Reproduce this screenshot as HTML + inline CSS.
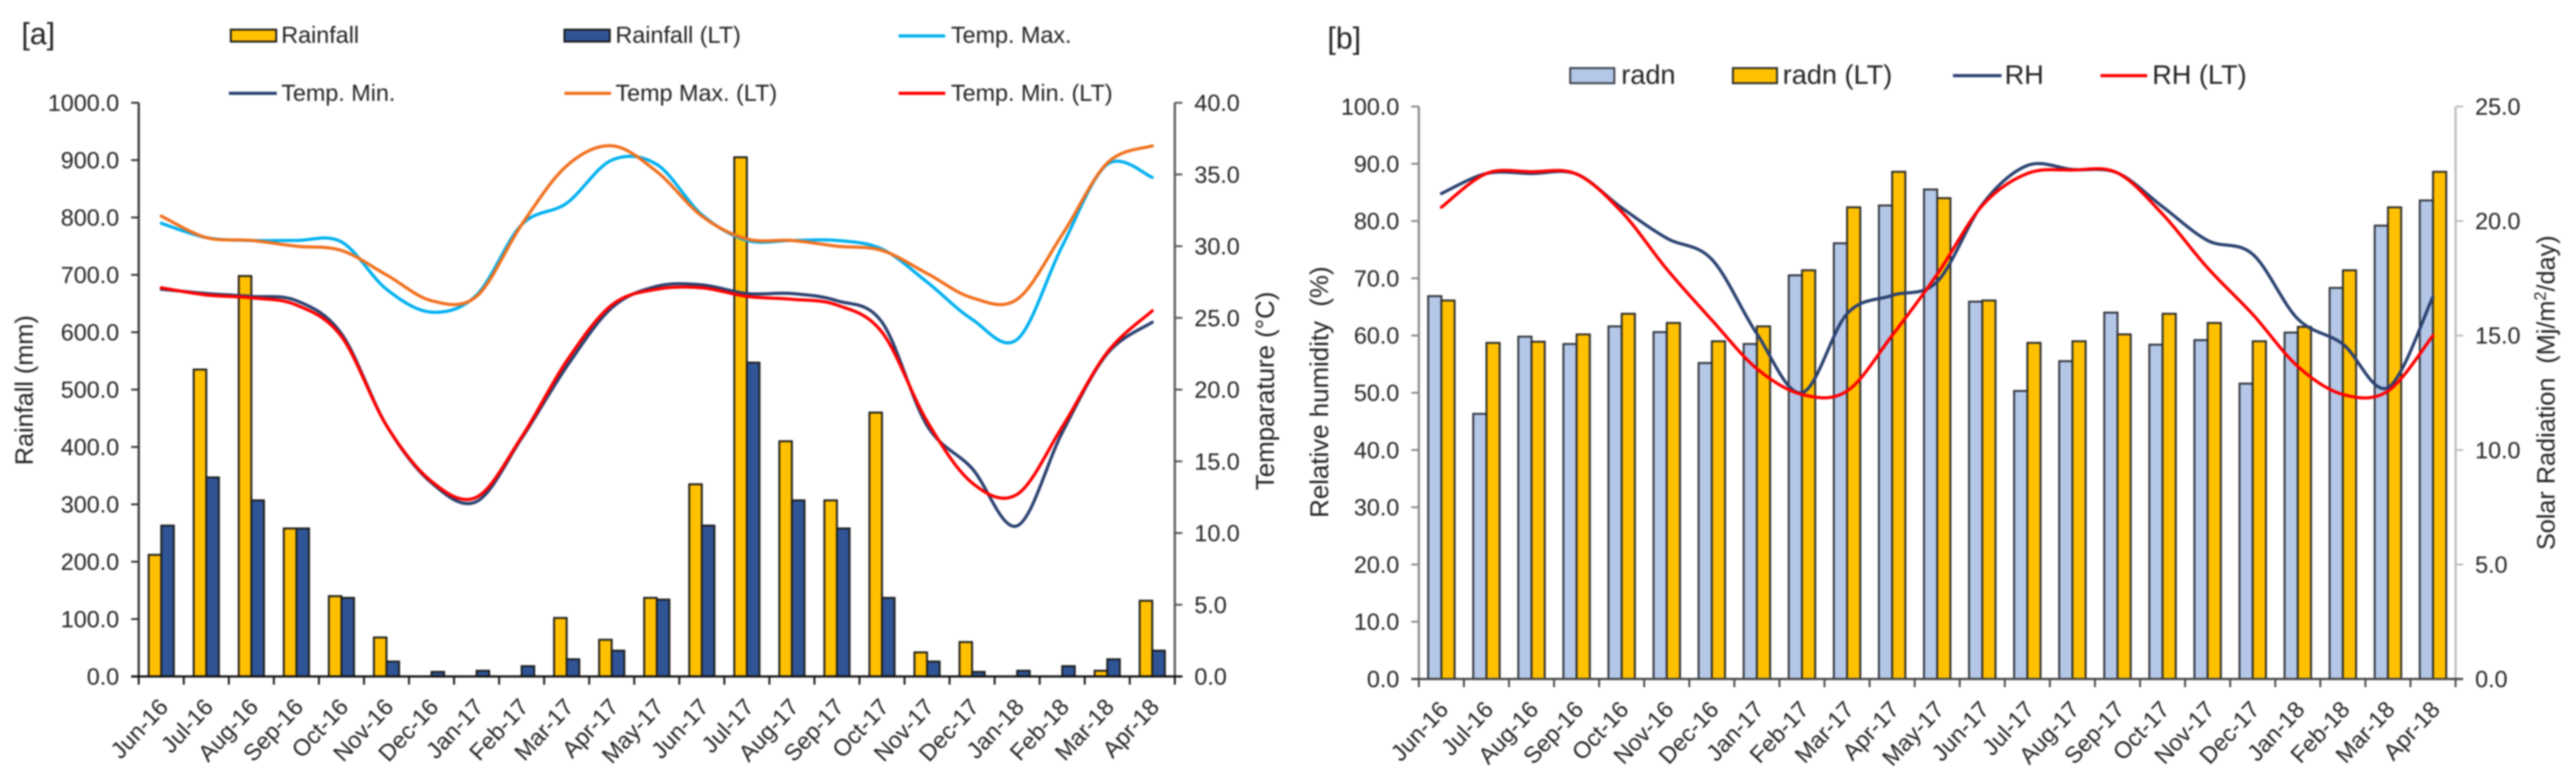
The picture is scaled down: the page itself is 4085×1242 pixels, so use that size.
<!DOCTYPE html>
<html lang="en">
<head>
<meta charset="utf-8">
<title>Weather charts</title>
<style>
html,body{margin:0;padding:0;background:#fff;width:4085px;height:1242px;overflow:hidden}
svg{display:block;filter:blur(1.3px)}
text{font-family:"Liberation Sans",sans-serif;fill:#222}
</style>
</head>
<body>
<svg id="chart" xmlns="http://www.w3.org/2000/svg" width="4085" height="1242" viewBox="0 0 4085 1242">
  <rect x="0" y="0" width="4085" height="1242" fill="#fff"/>
  <g id="panelA"></g>
  <g id="panelB"></g>

  <text x="34" y="70" font-size="48">[a]</text>
  <text x="2105" y="77" font-size="48">[b]</text>

  <g font-size="37">
    <g>
      <rect x="366" y="47" width="72" height="19" fill="#FFC000" stroke="#1a1a1a" stroke-width="3"/>
      <text x="446" y="68">Rainfall</text>
    </g>
    <g>
      <rect x="895" y="47" width="72" height="19" fill="#2F5597" stroke="#1a1a1a" stroke-width="3"/>
      <text x="976" y="68">Rainfall (LT)</text>
    </g>
    <g>
      <line x1="1425" y1="57" x2="1499" y2="57" stroke="#00B0F0" stroke-width="5"/>
      <text x="1508" y="68">Temp. Max.</text>
    </g>
    <g>
      <line x1="363" y1="148" x2="439" y2="148" stroke="#2A4170" stroke-width="5"/>
      <text x="446" y="160">Temp. Min.</text>
    </g>
    <g>
      <line x1="895" y1="148" x2="969" y2="148" stroke="#F0701E" stroke-width="5"/>
      <text x="976" y="160">Temp Max. (LT)</text>
    </g>
    <g>
      <line x1="1425" y1="148" x2="1499" y2="148" stroke="#FF0000" stroke-width="5"/>
      <text x="1508" y="160">Temp. Min. (LT)</text>
    </g>
  </g>

  <g font-size="43">
    <g>
      <rect x="2490" y="108" width="70" height="24" fill="#B4C7E7" stroke="#3a3f4a" stroke-width="3"/>
      <text x="2571" y="133">radn</text>
    </g>
    <g>
      <rect x="2748" y="108" width="70" height="24" fill="#FFC000" stroke="#2a2a2a" stroke-width="3"/>
      <text x="2827" y="133">radn (LT)</text>
    </g>
    <g>
      <line x1="3097" y1="120" x2="3174" y2="120" stroke="#2A4170" stroke-width="5"/>
      <text x="3179" y="133">RH</text>
    </g>
    <g>
      <line x1="3331" y1="120" x2="3405" y2="120" stroke="#FF0000" stroke-width="5"/>
      <text x="3413" y="133">RH (LT)</text>
    </g>
  </g>

  <text font-size="40" text-anchor="middle" transform="translate(52,619) rotate(-90)">Rainfall (mm)</text>
  <text font-size="41" text-anchor="middle" transform="translate(2020,620) rotate(-90)">Temparature (°C)</text>
  <text font-size="41" text-anchor="middle" transform="translate(2106,622) rotate(-90)">Relative humidity &#160;(%)</text>
  <text font-size="40" text-anchor="middle" transform="translate(4051,623) rotate(-90)">Solar Radiation &#160;(Mj/m<tspan font-size="26" dy="-14">2</tspan><tspan dy="14">/day)</tspan></text>
</svg>

<script>
const months = ['Jun-16','Jul-16','Aug-16','Sep-16','Oct-16','Nov-16','Dec-16','Jan-17','Feb-17','Mar-17','Apr-17','May-17','Jun-17','Jul-17','Aug-17','Sep-17','Oct-17','Nov-17','Dec-17','Jan-18','Feb-18','Mar-18','Apr-18'];

const rainfall = [212,535,698,258,140,68,0,0,0,102,64,137,335,905,410,307,460,42,60,0,0,10,132];
const rainfallLT = [263,347,307,258,137,26,8,10,18,30,45,134,263,547,307,258,137,26,8,10,18,30,45];
const tempMax = [31.6,30.6,30.4,30.4,30.3,27,25.4,26.6,31.5,33,36,35.7,32.2,30.4,30.4,30.4,29.8,27.5,24.9,23.5,30,35.7,34.8];
const tempMaxLT = [32.1,30.6,30.4,30,29.7,28,26.2,26.5,31.5,35.6,37,35.2,32.1,30.5,30.4,30,29.7,28.1,26.4,26.3,30.8,35.8,37];
const tempMin = [27,26.7,26.5,26.2,23.9,17.5,13.5,12.2,16.6,21.6,25.7,27.2,27.3,26.7,26.7,26.2,24.7,17.5,14.5,10.5,17,22.5,24.7];
const tempMinLT = [27.1,26.6,26.4,25.9,23.7,17.5,13.6,12.5,16.7,22,25.9,27,27.1,26.5,26.3,25.9,24,17.8,13.5,12.7,17.4,22.6,25.5];

const radn = [16.72,11.58,14.95,14.63,15.4,15.15,13.8,14.63,17.63,19.03,20.68,21.38,16.48,12.58,13.88,16,14.6,14.8,12.9,15.13,17.08,19.8,20.9];
const radnLT = [16.53,14.68,14.73,15.05,15.95,15.55,14.75,15.4,17.85,20.6,22.15,21,16.53,14.68,14.75,15.05,15.95,15.55,14.75,15.38,17.85,20.6,22.15];
const rh = [84.8,88.3,88.3,88.2,82.3,77,73.3,60.3,50,63.8,67,69.4,82.9,89.7,89,88.4,82.5,76.6,74.2,62.9,58.5,50.9,66.8];
const rhLT = [82.4,88.3,88.6,88.2,81.6,71.6,62.7,54.2,49.7,50.3,60,70.7,82.7,88.3,88.9,88.4,81.2,71.8,63.7,54.6,49.7,50.3,60];

const rainTicks = ['0.0','100.0','200.0','300.0','400.0','500.0','600.0','700.0','800.0','900.0','1000.0'];
const tempTicks = ['0.0','5.0','10.0','15.0','20.0','25.0','30.0','35.0','40.0'];
const rhTicks = ['0.0','10.0','20.0','30.0','40.0','50.0','60.0','70.0','80.0','90.0','100.0'];
const radTicks = ['0.0','5.0','10.0','15.0','20.0','25.0'];

const NS = 'http://www.w3.org/2000/svg';
const panelA = document.getElementById('panelA');
const panelB = document.getElementById('panelB');

/* axis functions */
const A = {l:220, r:1863, b:1073, t:163};
const B = {l:2250, r:3894, b:1077, t:169};
const band = (p) => (p.r - p.l) / months.length;
const xCat = (p, i) => p.l + band(p) * (i + 0.5);
const xEdge = (p, i) => p.l + band(p) * i;
const yScale = (p, max) => (v) => p.b - (p.b - p.t) * v / max;
const yRain = yScale(A, 1000);
const yTemp = yScale(A, 40);
const yRh = yScale(B, 100);
const yRad = yScale(B, 25);

function make(parent, tag, attrs) {
  const node = document.createElementNS(NS, tag);
  Object.keys(attrs).forEach(function (k) { node.setAttribute(k, attrs[k]); });
  parent.appendChild(node);
  return node;
}

function smoothPath(p, values, y) {
  const pts = values.map(function (v, i) { return [xCat(p, i), y(v)]; });
  let d = 'M' + pts[0][0].toFixed(1) + ' ' + pts[0][1].toFixed(1);
  for (let i = 0; i < pts.length - 1; i++) {
    const p0 = pts[Math.max(i - 1, 0)];
    const p1 = pts[i];
    const p2 = pts[i + 1];
    const p3 = pts[Math.min(i + 2, pts.length - 1)];
    const c1x = p1[0] + (p2[0] - p0[0]) / 6;
    const c1y = p1[1] + (p2[1] - p0[1]) / 6;
    const c2x = p2[0] - (p3[0] - p1[0]) / 6;
    const c2y = p2[1] - (p3[1] - p1[1]) / 6;
    d += 'C' + c1x.toFixed(1) + ' ' + c1y.toFixed(1) + ' ' + c2x.toFixed(1) + ' ' + c2y.toFixed(1) + ' ' + p2[0].toFixed(1) + ' ' + p2[1].toFixed(1);
  }
  return d;
}

function drawBars(parent, p, values, y, offset, width, fill, stroke, name) {
  values.forEach(function (v, i) {
    const bar = make(parent, 'rect', {x: xCat(p, i) + offset, y: y(v), width: width, height: Math.max(y(0) - y(v), 0), fill: fill, stroke: stroke, 'stroke-width': 3});
    
    
  });
}

function drawLine(parent, p, values, y, color, name) {
  const line = make(parent, 'path', {d: smoothPath(p, values, y), fill: 'none', stroke: color, 'stroke-width': 5, 'stroke-linecap': 'round'});
  
  
}

function drawYAxis(parent, x, y0, y1, labels, y, side, color, name) {
  const axis = make(parent, 'line', {x1: x, y1: y0, x2: x, y2: y1, stroke: color, 'stroke-width': 3.5});
  
  
  labels.forEach(function (lab) {
    const v = parseFloat(lab);
    const tick = make(parent, 'line', {x1: x, y1: y(v), x2: x + side * 12, y2: y(v), stroke: color, 'stroke-width': 3});
    
    
    const txt = make(parent, 'text', {x: x + side * 31, y: y(v) + 13, 'font-size': 37, 'text-anchor': side < 0 ? 'end' : 'start', fill: '#333'});
    txt.textContent = lab;
    
    
  });
}

function drawXAxis(parent, p, color, name) {
  const axis = make(parent, 'line', {x1: p.l - 12, y1: p.b, x2: p.r + 12, y2: p.b, stroke: color, 'stroke-width': 3.5});
  
  
  for (let i = 0; i <= months.length; i++) {
    const tick = make(parent, 'line', {x1: xEdge(p, i), y1: p.b, x2: xEdge(p, i), y2: p.b + 13, stroke: color, 'stroke-width': 3});
    
    
  }
  months.forEach(function (m, i) {
    const tx = xCat(p, i) + 13;
    const ty = p.b + 50;
    const txt = make(parent, 'text', {x: tx, y: ty, 'font-size': 37, 'text-anchor': 'end', fill: '#333', transform: 'rotate(-47 ' + tx + ' ' + ty + ')'});
    txt.textContent = m;
    
    
  });
}

/* panel a */
drawBars(panelA, A, rainfall, yRain, -20, 20, '#FFC000', '#1c1c1c', 'bar-rainfall');
drawBars(panelA, A, rainfallLT, yRain, 0, 20, '#2F5597', '#1c1c1c', 'bar-rainfall-lt');
drawLine(panelA, A, tempMax, yTemp, '#00B0F0', 'line-temp-max');
drawLine(panelA, A, tempMaxLT, yTemp, '#F0701E', 'line-temp-max-lt');
drawLine(panelA, A, tempMin, yTemp, '#2A4170', 'line-temp-min');
drawLine(panelA, A, tempMinLT, yTemp, '#FF0000', 'line-temp-min-lt');
drawYAxis(panelA, A.l, A.b, A.t, rainTicks, yRain, -1, '#333', 'rainfall-axis');
drawYAxis(panelA, A.r, A.b, A.t, tempTicks, yTemp, 1, '#555', 'temperature-axis');
drawXAxis(panelA, A, '#111', 'month-axis-a');

/* panel b */
drawBars(panelB, B, radn, yRad, -21, 21, '#B4C7E7', '#2f323a', 'bar-radn');
drawBars(panelB, B, radnLT, yRad, 0, 21, '#FFC000', '#2a2a2a', 'bar-radn-lt');
drawLine(panelB, B, rh, yRh, '#2A4170', 'line-rh');
drawLine(panelB, B, rhLT, yRh, '#FF0000', 'line-rh-lt');
drawYAxis(panelB, B.l, B.b, B.t, rhTicks, yRh, -1, '#8a8a8a', 'humidity-axis');
drawYAxis(panelB, B.r, B.b, B.t, radTicks, yRad, 1, '#bdbdbd', 'radiation-axis');
drawXAxis(panelB, B, '#444', 'month-axis-b');
</script>
</body>
</html>
